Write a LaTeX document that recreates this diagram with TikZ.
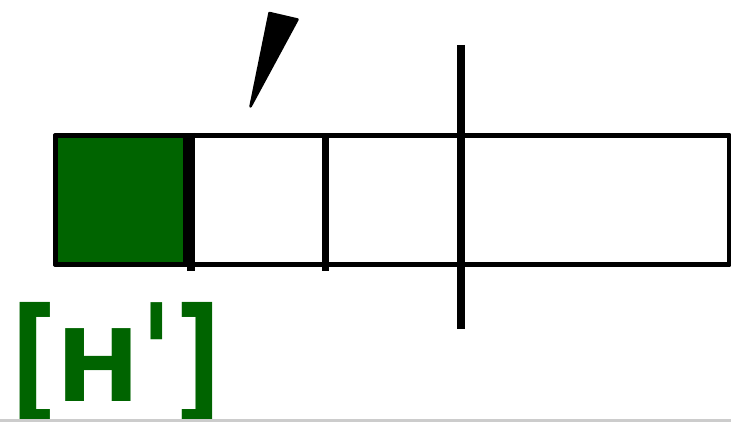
\documentclass[tikz,border=0pt]{standalone}
\usepackage{fontspec}
\newfontfamily\labelfont{DejaVu Sans}
\definecolor{hgreen}{RGB}{0,100,0}
\definecolor{edgegray}{RGB}{204,204,204}
\tikzset{
  frame/.style={draw=black, line width=5pt, line join=round},
  divider/.style={draw=black, line width=7.5pt},
  wedge/.style={fill=black, draw=black, line width=2.5pt, line join=round},
  glyph/.style={inner sep=0pt, outer sep=0pt, text=hgreen, font=\labelfont\bfseries\fontsize{100}{120}\selectfont}
}
\begin{document}
\begin{tikzpicture}[x=1pt,y=-1pt]
\useasboundingbox (0,0) rectangle (731,422);
% main bar
\draw[frame] (55,136) rectangle (729,264);
% green square
\filldraw[frame, fill=hgreen] (55,136) rectangle (185,264);
% dividers
\draw[divider] (191,133) -- (191,271);
\draw[divider] (325.5,136) -- (325.5,271);
\draw[divider] (461,45) -- (461,329);
% wedge
\filldraw[wedge] (269.5,13) -- (297.5,19.5) -- (250.5,106.5) -- cycle;
% label [H']
\node[glyph, anchor=north west] (lbr) at (11,302) {\scalebox{1}[1.37]{[}};
\node[glyph, anchor=base west] (hch) at (56.7,401) {H};
\node[glyph, anchor=north west] (prm) at (141.5,303) {\scalebox{1}[1.37]{'}};
\node[glyph, anchor=north west] (rbr) at (175,302) {\scalebox{1}[1.37]{]}};
% bottom gray edge
\fill[edgegray] (0,419) rectangle (731,422);
\end{tikzpicture}
\end{document}
